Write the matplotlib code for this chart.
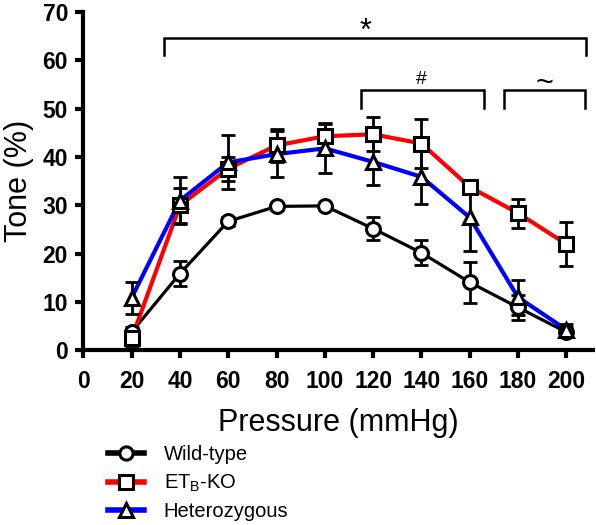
import matplotlib.pyplot as plt
from matplotlib.lines import Line2D

plt.rcParams['font.family'] = ['Liberation Sans', 'DejaVu Sans']

# pressure steps (mmHg)
pressure = [20, 40, 60, 80, 100, 120, 140, 160, 180, 200]

# tone (%) mean and SEM per group
wt = [3.8, 15.9, 26.7, 29.8, 29.9, 25.2, 20.2, 14.1, 8.9, 3.8]
wt_err = [1.0, 2.6, 1.0, 0.8, 0.6, 2.4, 2.6, 4.3, 2.5, 1.0]
ko = [2.5, 30.0, 37.6, 42.4, 44.3, 44.7, 42.8, 33.8, 28.4, 22.0]
ko_err = [1.5, 3.7, 2.5, 3.5, 2.8, 3.5, 5.0, 1.5, 3.0, 4.5]
het = [10.9, 31.0, 38.9, 40.6, 41.8, 39.0, 35.9, 27.5, 11.0, 4.3]
het_err = [3.3, 4.8, 5.6, 4.8, 5.0, 4.7, 5.7, 7.0, 3.6, 1.2]

labels = ['Wild-type', 'ET$_\\mathregular{B}$-KO', 'Heterozygous']
colors = ['black', 'red', 'blue']
markers = ['o', 's', '^']

# significance brackets: (x start, x end, y top, y drop, symbol, symbol x, symbol y, symbol size)
brackets = [
    (33.5, 208.3, 64.6, 61.1, '*', 117, 62.8, 22),
    (115.0, 166.0, 53.8, 50.1, '#', 140, 54.2, 14),
    (174.3, 207.9, 53.8, 50.1, '~', 191, 52.0, 22),
]

fig = plt.figure(figsize=(5.96, 5.25), dpi=100)
ax = fig.add_axes([0.1398, 0.3324, 0.855, 0.6448])

series = [(wt, wt_err), (ko, ko_err), (het, het_err)]
lws = [2.3, 3.0, 3.0]
for (y, e), c, m, lw in zip(series, colors, markers, lws):
    ax.plot(pressure, y, color=c, lw=lw, zorder=2, clip_on=False)
for (y, e), c, m in zip(series, colors, markers):
    ax.errorbar(pressure, y, yerr=e, fmt='none', ecolor='black', elinewidth=2.0,
                capsize=5, capthick=2.0, zorder=3, clip_on=False)
    ax.plot(pressure, y, ls='none', marker=m, ms=10, mfc='white', mec='black',
            mew=2.2, zorder=4, clip_on=False)

for x0, x1, ytop, ydrop, sym, xsym, ysym, fs in brackets:
    ax.plot([x0, x0, x1, x1], [ydrop, ytop, ytop, ydrop], color='black', lw=1.8,
            clip_on=False, solid_joinstyle='miter')
    ax.text(xsym, ysym, sym, ha='center', va='bottom', fontsize=fs)

ax.set_xlim(0, 211)
ax.set_ylim(0, 70)
ax.set_xticks(range(0, 201, 20))
ax.set_yticks(range(0, 71, 10))
for s in ['top', 'right']:
    ax.spines[s].set_visible(False)
for s in ['left', 'bottom']:
    ax.spines[s].set_linewidth(3)
ax.tick_params(direction='out', length=6, width=3, labelsize=16.5, pad=5)
ax.tick_params(axis='x', pad=8)
for lab in ax.get_xticklabels() + ax.get_yticklabels():
    lab.set_fontweight('bold')

ax.set_xlabel('Pressure (mmHg)', fontsize=22, labelpad=11)
ax.set_ylabel('Tone (%)', fontsize=22, labelpad=6)

handles = [Line2D([], [], color=c, lw=4, marker=m, ms=9.5, mfc='white', mec='black', mew=2.2)
           for c, m in zip(colors, markers)]
fig.legend(handles, labels, loc='upper left', bbox_to_anchor=(0.182, 0.152),
           bbox_transform=fig.transFigure, frameon=False, fontsize=14.5,
           handlelength=1.75, handletextpad=1.0, labelspacing=0.42,
           borderaxespad=0, borderpad=0)

fig.savefig('out.png', dpi=100)
